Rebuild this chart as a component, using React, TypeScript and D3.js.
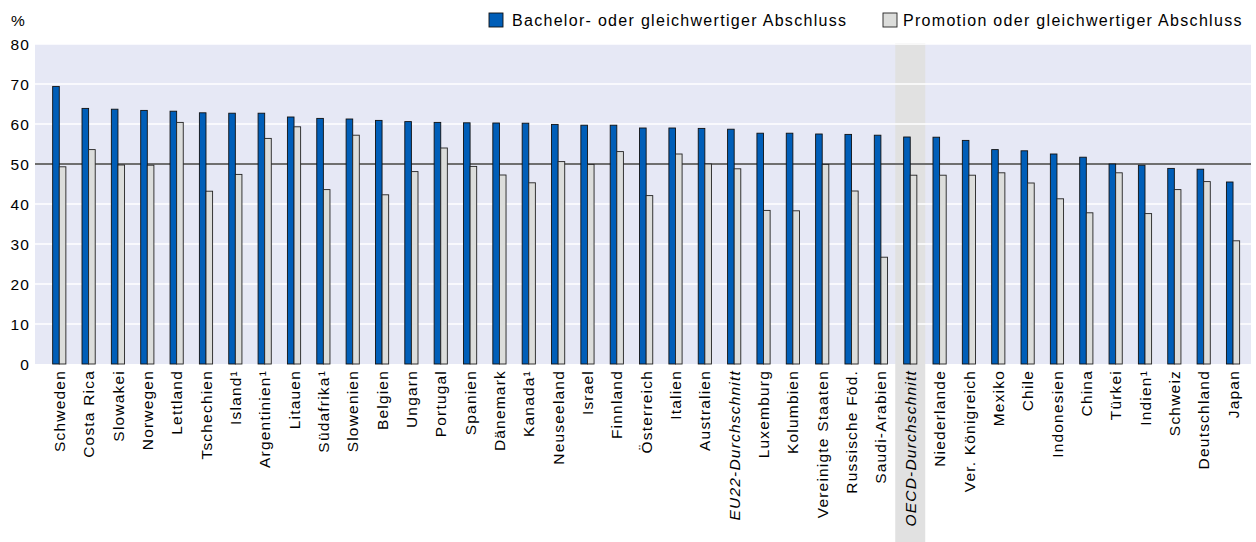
import React from "react";
import * as d3 from "d3";

const categories = [
  "Schweden", "Costa Rica", "Slowakei", "Norwegen", "Lettland", "Tschechien", "Island¹",
  "Argentinien¹", "Litauen", "Südafrika¹", "Slowenien", "Belgien", "Ungarn", "Portugal",
  "Spanien", "Dänemark", "Kanada¹", "Neuseeland", "Israel", "Finnland", "Österreich",
  "Italien", "Australien", "EU22-Durchschnitt", "Luxemburg", "Kolumbien", "Vereinigte Staaten",
  "Russische Föd.", "Saudi-Arabien", "OECD-Durchschnitt", "Niederlande", "Ver. Königreich",
  "Mexiko", "Chile", "Indonesien", "China", "Türkei", "Indien¹", "Schweiz", "Deutschland", "Japan",
];

const bachelor = [
  69.4, 63.9, 63.7, 63.4, 63.2, 62.8, 62.7, 62.7, 61.75, 61.4, 61.25, 60.9, 60.6, 60.4,
  60.3, 60.25, 60.2, 59.9, 59.7, 59.7, 59.0, 59.0, 58.9, 58.7, 57.7, 57.7, 57.5,
  57.4, 57.2, 56.75, 56.7, 55.9, 53.6, 53.3, 52.5, 51.7, 50.0, 49.7, 48.9, 48.7, 45.5,
];

const promotion = [
  49.3, 53.6, 49.75, 49.7, 60.4, 43.2, 47.4, 56.4, 59.3, 43.6, 57.2, 42.3, 48.1, 54.0,
  49.4, 47.25, 45.3, 50.6, 49.9, 53.1, 42.1, 52.5, 50.0, 48.8, 38.4, 38.3, 49.9,
  43.25, 26.7, 47.2, 47.2, 47.2, 47.8, 45.25, 41.3, 37.8, 47.8, 37.6, 43.6, 45.6, 30.8,
];

const yTicks = [0, 10, 20, 30, 40, 50, 60, 70, 80];
const italicCats = ["EU22-Durchschnitt", "OECD-Durchschnitt"];
const highlightCat = "OECD-Durchschnitt";
const legendLabels = ["Bachelor- oder gleichwertiger Abschluss", "Promotion oder gleichwertiger Abschluss"];

const W = 1256;
const H = 542;
const plotLeft = 35;
const plotRight = 1251;
const FONT = "'Liberation Sans', Arial, sans-serif";
const BLUE = "#005eb8";
const GREY = "#dcdddb";
const BG = "#e6e8f5";

export default function App() {
  const x = d3.scaleBand<string>().domain(categories).range([44.6, 1247.7]).padding(0);
  const y = d3.scaleLinear().domain([0, 80]).range([364, 44]);
  const bw = 6.6;

  return (
    <svg
      width={W}
      height={H}
      style={{ position: "absolute", left: 0, top: 0, background: "#fff" }}
      fontFamily={FONT}
    >
      {/* plot background */}
      <rect x={plotLeft} y={y(80)} width={plotRight - plotLeft} height={y(0) - y(80)} fill={BG} />
      {/* highlight column */}
      <rect
        x={(x(highlightCat) as number) + x.bandwidth() / 2 - 15}
        y={y(80) - 1}
        width={30}
        height={H - y(80) + 1}
        fill="#e1e1e1"
      />
      {/* gridlines */}
      {yTicks.filter((t) => t > 0 && t !== 50).map((t) => (
        <line key={t} x1={plotLeft} x2={plotRight} y1={y(t)} y2={y(t)} stroke="#fff" strokeWidth={1.5} />
      ))}
      {/* y tick labels */}
      {yTicks.map((t) => (
        <text key={t} x={30} y={y(t)} dy="0.36em" textAnchor="end" fontSize={15.5} letterSpacing={1.1} fill="#000">
          {t}
        </text>
      ))}
      <text x={11} y={26} fontSize={15.5} fill="#000">%</text>
      {/* reference line at 50 */}
      <line x1={plotLeft} x2={plotRight} y1={y(50)} y2={y(50)} stroke="#6f6f6f" strokeWidth={2} />
      {/* bars */}
      {categories.map((c, i) => {
        const cx = (x(c) as number) + x.bandwidth() / 2;
        return (
          <g key={c}>
            <rect x={cx - bw} y={y(bachelor[i])} width={bw} height={y(0) - y(bachelor[i])} fill={BLUE} stroke="#111" strokeWidth={0.9} />
            <rect x={cx} y={y(promotion[i])} width={bw} height={y(0) - y(promotion[i])} fill={GREY} stroke="#222" strokeWidth={0.9} />
          </g>
        );
      })}
      {/* category labels */}
      {categories.map((c) => {
        const cx = (x(c) as number) + x.bandwidth() / 2;
        return (
          <text
            key={c}
            transform={`translate(${cx},370) rotate(-90)`}
            textAnchor="end"
            dy="0.36em"
            fontSize={15.5}
            letterSpacing={1.2}
            fontStyle={italicCats.includes(c) ? "italic" : "normal"}
            fill="#000"
          >
            {c}
          </text>
        );
      })}
      {/* legend */}
      <rect x={489} y={13} width={14} height={14} fill={BLUE} stroke="#111" strokeWidth={0.9} />
      <text x={512} y={26} fontSize={16} letterSpacing={1.3} fill="#000">{legendLabels[0]}</text>
      <rect x={883} y={13} width={14} height={14} fill={GREY} stroke="#222" strokeWidth={0.9} />
      <text x={903} y={26} fontSize={16} letterSpacing={1.3} fill="#000">{legendLabels[1]}</text>
    </svg>
  );
}
